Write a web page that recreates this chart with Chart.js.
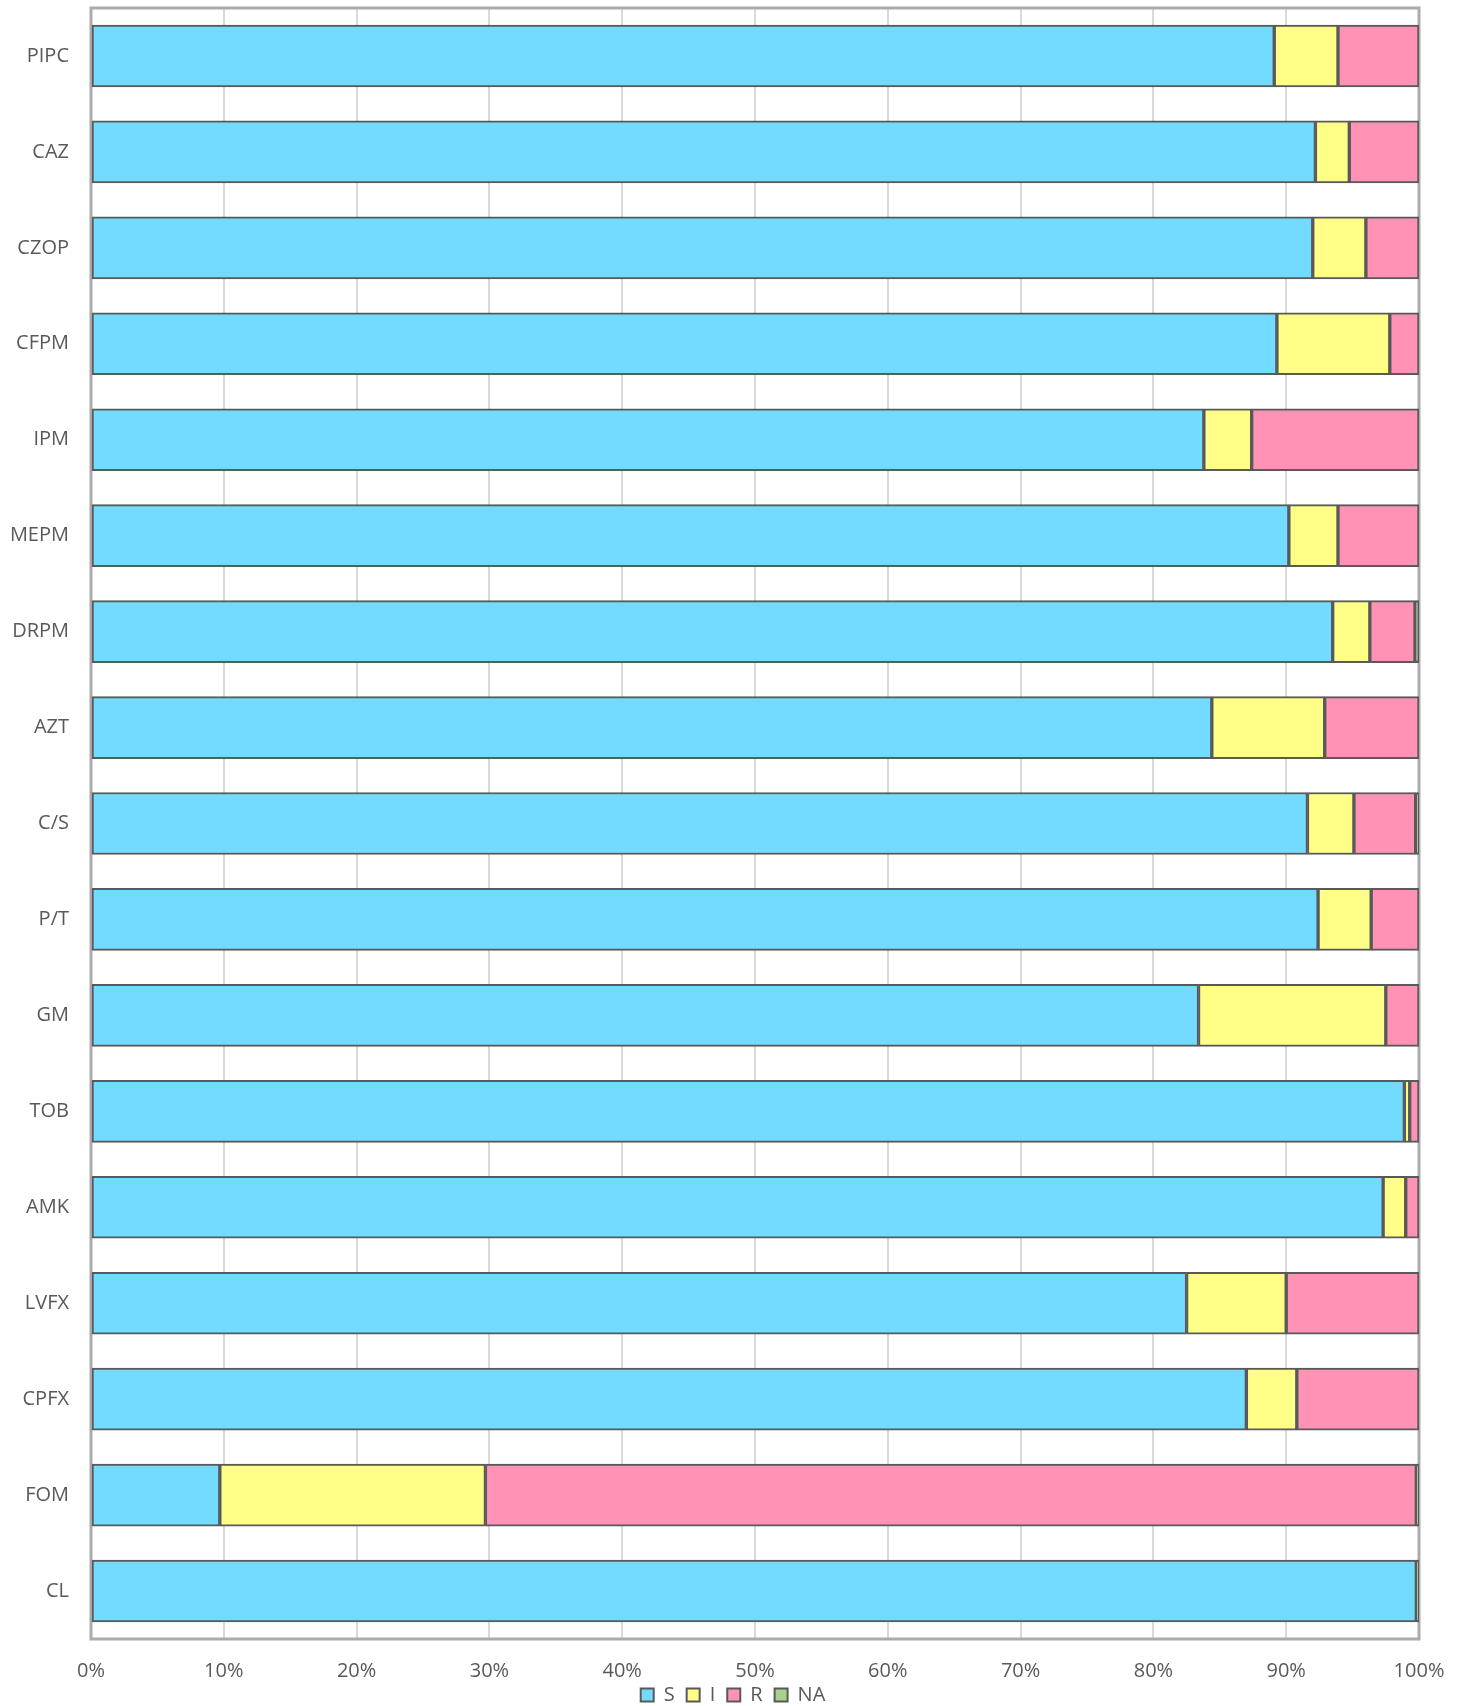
<!DOCTYPE html>
<html>
<head>
<meta charset="utf-8">
<script src="https://cdn.jsdelivr.net/npm/chart.js@4.4.1/dist/chart.umd.min.js"></script>
<style>
  html, body { margin: 0; padding: 0; background: #fff; }
  #wrap { width: 1466px; height: 1706px; position: relative; }
</style>
</head>
<body>
<div id="wrap"><canvas id="resist-chart"></canvas></div>
<script>
// drug names, top to bottom
const drugs = ["PIPC", "CAZ", "CZOP", "CFPM", "IPM", "MEPM", "DRPM", "AZT", "C/S",
    "P/T", "GM", "TOB", "AMK", "LVFX", "CPFX", "FOM", "CL"];

// share of isolates in %
const susceptible   = [89.1, 92.2, 92.0, 89.3, 83.8, 90.2, 93.5, 84.4, 91.6, 92.4, 83.4, 98.9, 97.3, 82.5, 87.0, 9.7, 99.8];
const intermediate  = [4.8, 2.55, 4.0, 8.5, 3.6, 3.7, 2.8, 8.5, 3.5, 4.0, 14.1, 0.4, 1.7, 7.5, 3.8, 20.0, 0];
const resistant     = [6.1, 5.25, 4.0, 2.2, 12.6, 6.1, 3.4, 7.1, 4.65, 3.6, 2.5, 0.7, 1.0, 10.0, 9.2, 70.1, 0];
const notAvailable  = [0, 0, 0, 0, 0, 0, 0.3, 0, 0.25, 0, 0, 0, 0, 0, 0, 0.2, 0.2];

const xTicks = [0, 10, 20, 30, 40, 50, 60, 70, 80, 90, 100];

const textColor = "#595959";
const fontFamily = "'Open Sans', 'DejaVu Sans', sans-serif";

// grey frame round the plot, drawn under the bars
const plotFrame = {
    id: "plotFrame",
    afterLayout(chart) {
        // let the x tick labels run past the axis box instead of being clipped
        chart.scales.x.bottom = chart.height;
    },
    beforeDatasetsDraw(chart) {
        const { ctx, chartArea: a } = chart;
        ctx.save();
        ctx.strokeStyle = "#ababab";
        ctx.lineWidth = 3;
        ctx.strokeRect(a.left, a.top, a.right - a.left, a.bottom - a.top);
        ctx.restore();
    },
};

function makeSet(label, data, color) {
    return {
        label,
        data,
        backgroundColor: color,
        borderColor: "#595959",
        borderWidth: 2,
        borderSkipped: false,
        barThickness: 62,
    };
}

function resistChart() {
    const el = document.getElementById("resist-chart");
    const ctx = el.getContext("2d");

    const config = {
        type: "bar",
        data: {
            labels: drugs,
            datasets: [
                makeSet("S", susceptible, "#72DBFF"),
                makeSet("I", intermediate, "#FFFF88"),
                makeSet("R", resistant, "#FF92B5"),
                makeSet("NA", notAvailable, "#A9D18E"),
            ],
        },
        options: {
            indexAxis: "y",
            responsive: true,
            maintainAspectRatio: false,
            animation: false,
            layout: { padding: { left: 0, right: 0, top: 8, bottom: -9 } },
            scales: {
                x: {
                    stacked: true,
                    min: 0,
                    max: 100,
                    afterBuildTicks: (scale) => {
                        scale.ticks = xTicks.map((v) => ({ value: v }));
                    },
                    afterFit: (scale) => {
                        scale.height = 34;
                        scale.paddingLeft = 0;
                        scale.paddingRight = 47;
                    },
                    grid: { color: "#d9d9d9", lineWidth: 2, drawTicks: false },
                    border: { display: false },
                    ticks: {
                        padding: 20,
                        color: textColor,
                        font: { family: fontFamily, size: 20 },
                        callback: (v) => v + "%",
                    },
                },
                y: {
                    stacked: true,
                    afterFit: (scale) => {
                        scale.width = 91;
                        scale.paddingTop = 0;
                        scale.paddingBottom = 0;
                    },
                    grid: { display: false, drawTicks: false },
                    border: { display: false },
                    ticks: {
                        padding: 22,
                        color: textColor,
                        font: { family: fontFamily, size: 20 },
                    },
                },
            },
            plugins: {
                legend: {
                    position: "bottom",
                    labels: {
                        boxWidth: 13,
                        boxHeight: 13,
                        padding: 12,
                        color: textColor,
                        font: { family: fontFamily, size: 20 },
                    },
                },
                tooltip: { enabled: false },
            },
        },
        plugins: [plotFrame],
    };

    new Chart(ctx, config);
}

document.addEventListener("DOMContentLoaded", resistChart);
</script>
</body>
</html>
